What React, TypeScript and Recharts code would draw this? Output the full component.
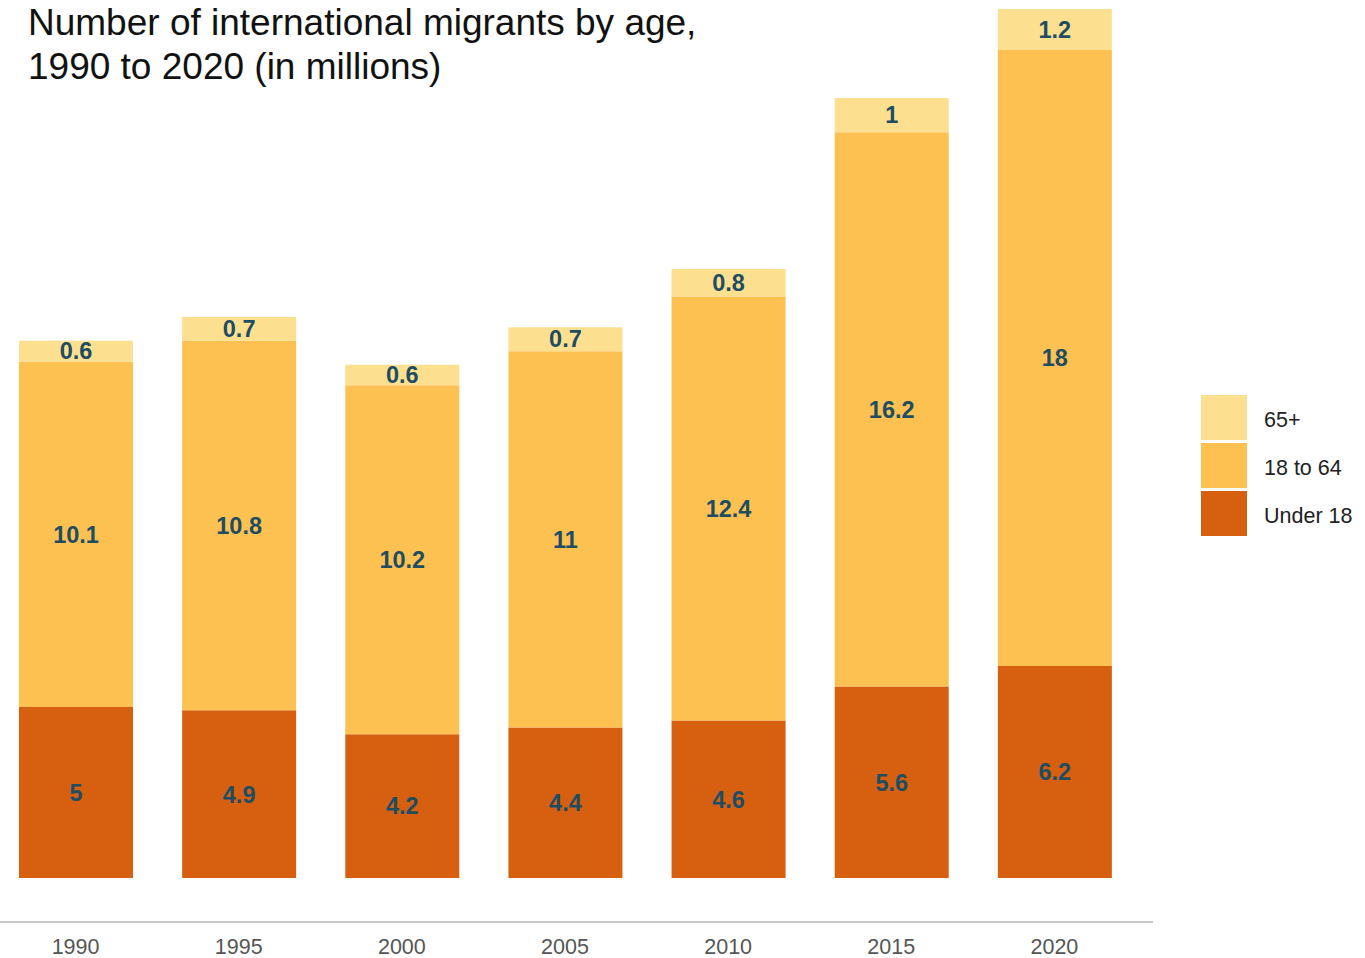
import { BarChart, Bar, XAxis, YAxis, LabelList } from "recharts"

const years = ["1990", "1995", "2000", "2005", "2010", "2015", "2020"]
const under18 = [5, 4.9, 4.2, 4.4, 4.6, 5.6, 6.2]
const adults = [10.1, 10.8, 10.2, 11, 12.4, 16.2, 18]
const seniors = [0.6, 0.7, 0.6, 0.7, 0.8, 1, 1.2]

const series = [
  { key: "seniors", name: "65+", color: "#FDE08F" },
  { key: "adults", name: "18 to 64", color: "#FCC150" },
  { key: "under18", name: "Under 18", color: "#D6600F" },
]

const data = years.map((year, i) => ({
  year,
  under18: under18[i],
  adults: adults[i],
  seniors: seniors[i],
}))

const FONT = "'Liberation Sans', Arial, sans-serif"

const LABEL = {
  fill: "#1E4D63",
  fontFamily: FONT,
  fontWeight: 700,
  fontSize: 23.5,
}

function LegendBox() {
  return (
    <div style={{ position: "absolute", left: 1201, top: 395, fontFamily: FONT }}>
      {series.map((s) => (
        <div key={s.key} style={{ display: "flex", alignItems: "center", height: 45, marginBottom: 3 }}>
          <div style={{ width: 46, height: 45, background: s.color }} />
          <span style={{ marginLeft: 17, paddingTop: 6, fontSize: 21.5, color: "#222" }}>{s.name}</span>
        </div>
      ))}
    </div>
  )
}

export default function App() {
  return (
    <div style={{ position: "absolute", left: 0, top: 0, width: 1365, height: 958, background: "#fff", overflow: "hidden" }}>
      <div style={{ position: "absolute", left: 28, top: 1, fontFamily: FONT, fontSize: 37, lineHeight: "44px", color: "#111", zIndex: 2 }}>
        Number of international migrants by age,<br />1990 to 2020 (in millions)
      </div>
      <div style={{ position: "absolute", left: -6, top: 0 }}>
        <BarChart
          width={1371}
          height={958}
          data={data}
          margin={{ top: 9, right: 212, bottom: 0, left: 0 }}
        >
          <XAxis
            dataKey="year"
            height={36}
            padding={{ left: 0, right: 17 }}
            tickLine={false}
            axisLine={{ stroke: "#C8C8C8", strokeWidth: 2 }}
            tick={{ fill: "#555", fontSize: 21.5, fontFamily: FONT }}
            tickMargin={11}
          />
          <YAxis hide type="number" domain={[-1.286, 25.4]} allowDataOverflow />
          <Bar dataKey="under18" name="Under 18" stackId="a" fill="#D6600F" barSize={114} isAnimationActive={false}>
            <LabelList dataKey="under18" position="center" style={LABEL} />
          </Bar>
          <Bar dataKey="adults" name="18 to 64" stackId="a" fill="#FCC150" barSize={114} isAnimationActive={false}>
            <LabelList dataKey="adults" position="center" style={LABEL} />
          </Bar>
          <Bar dataKey="seniors" name="65+" stackId="a" fill="#FDE08F" barSize={114} isAnimationActive={false}>
            <LabelList dataKey="seniors" position="center" style={LABEL} />
          </Bar>
        </BarChart>
      </div>
      <LegendBox />
    </div>
  )
}
